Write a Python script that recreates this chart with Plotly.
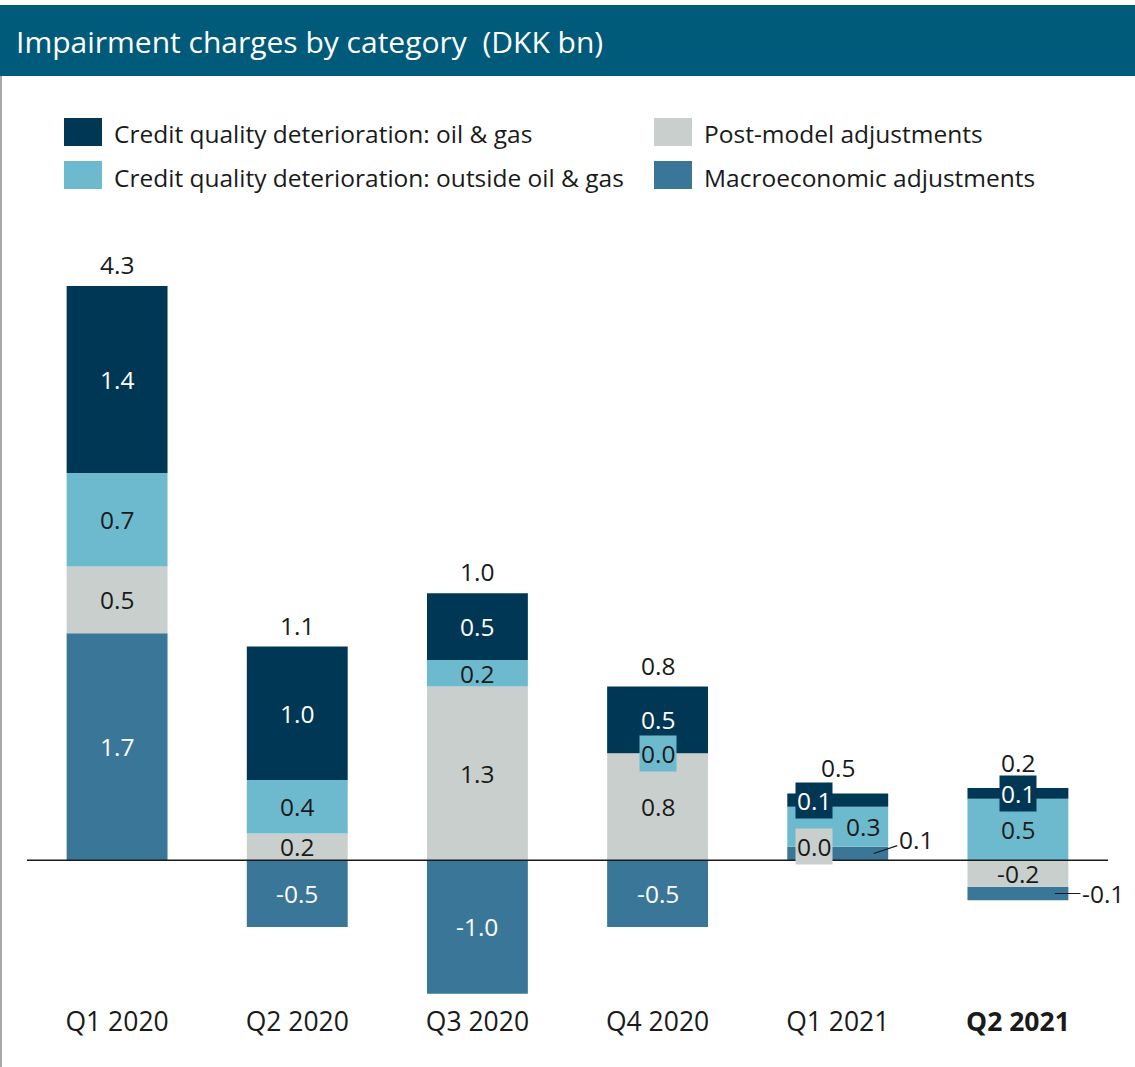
import plotly.graph_objects as go

# ---- data ----
categories = ["Q1 2020", "Q2 2020", "Q3 2020", "Q4 2020", "Q1 2021", "Q2 2021"]
tick_labels = ["Q1 2020", "Q2 2020", "Q3 2020", "Q4 2020", "Q1 2021", "<b>Q2 2021</b>"]
oil_gas = [1.4, 1.0, 0.5, 0.5, 0.1, 0.08]
outside_oil_gas = [0.7, 0.4, 0.2, 0.0, 0.3, 0.46]
post_model = [0.5, 0.2, 1.3, 0.8, 0.0, -0.2]
macro = [1.7, -0.5, -1.0, -0.5, 0.1, -0.1]
totals = [4.3, 1.1, 1.0, 0.8, 0.5, 0.2]

series = [
    # name, values, color, label font color
    ("Macroeconomic adjustments", macro, "#3A7697", "white"),
    ("Post-model adjustments", post_model, "#C9CFCC", "#1a1a1a"),
    ("Credit quality deterioration: outside oil & gas", outside_oil_gas, "#6DBACF", "#1a1a1a"),
    ("Credit quality deterioration: oil & gas", oil_gas, "#003755", "white"),
]
# stacking orders
pos_order = [0, 1, 2, 3]   # macro at bottom, then post, outside, oil
neg_order = [1, 0, 2, 3]   # post closest to zero, then macro

FONT = "Open Sans"
VAL_SIZE = 24.5
n = len(categories)
x_idx = list(range(n))

# compute bases
bases = [[0.0] * n for _ in series]
for j in range(n):
    pos = 0.0
    for k in pos_order:
        v = series[k][1][j]
        if v >= 0:
            bases[k][j] = pos
            pos += v
    neg = 0.0
    for k in neg_order:
        v = series[k][1][j]
        if v < 0:
            bases[k][j] = neg
            neg += v

fig = go.Figure()
for k, (name, vals, color, _) in enumerate(series):
    fig.add_trace(go.Bar(
        x=x_idx, y=vals, base=bases[k], name=name,
        marker=dict(color=color, line=dict(width=0)),
        width=0.56, showlegend=False, hoverinfo="skip",
    ))

annotations = []
# special label placements: (series index, category index) -> dict
special = {
    (2, 3): dict(box=True),
    (3, 4): dict(xshift=-24, box=True),
    (2, 4): dict(xshift=25),
    (1, 4): dict(xshift=-24, box=True),
    (0, 4): dict(arrow=(42, -14), xshift=36),
    (3, 5): dict(box=True),
    (0, 5): dict(arrow=(48, 0), xshift=37),
}
for k, (name, vals, color, fcol) in enumerate(series):
    for j in range(n):
        v = vals[j]
        ymid = bases[k][j] + v / 2
        sp = special.get((k, j), {})
        if "arrow" in sp:
            ax, ay = sp["arrow"]
            annotations.append(dict(
                x=j, y=ymid, xref="x", yref="y", text=f"{v:.1f}",
                showarrow=True, arrowhead=0, arrowwidth=1.2, arrowcolor="#1a1a1a",
                ax=ax, ay=ay, xshift=sp.get("xshift", 0), standoff=0,
                font=dict(family=FONT, size=VAL_SIZE, color="#1a1a1a"),
            ))
        else:
            annotations.append(dict(
                x=j, y=ymid, xref="x", yref="y", text=f"{v:.1f}",
                showarrow=False, xshift=sp.get("xshift", 0),
                bgcolor=color if sp.get("box") else "rgba(0,0,0,0)", borderpad=1,
                font=dict(family=FONT, size=VAL_SIZE, color=fcol),
            ))

# totals above stacks
for j in range(n):
    top = sum(series[k][1][j] for k in range(len(series)) if series[k][1][j] > 0)
    extra = 7 if j >= 4 else 3
    annotations.append(dict(
        x=j, y=top, xref="x", yref="y", text=f"{totals[j]:.1f}",
        showarrow=False, yanchor="bottom", yshift=extra,
        font=dict(family=FONT, size=VAL_SIZE, color="#1a1a1a"),
    ))

# ---- layout geometry ----
W, H = 1135, 1067
ml, mr, mt, mb = 27, 27, 246, 64
pw = W - ml - mr
ph = H - mt - mb

def px_x(p):
    return (p - ml) / pw

def px_y(p):
    return (H - mb - p) / ph

shapes = [
    # header
    dict(type="rect", xref="paper", yref="paper", x0=px_x(0), x1=px_x(W),
         y0=px_y(76), y1=px_y(5), fillcolor="#005A7A", line=dict(width=0), layer="above"),
    # left border
    dict(type="rect", xref="paper", yref="paper", x0=px_x(0), x1=px_x(2),
         y0=px_y(H), y1=px_y(76), fillcolor="#A9A9A9", line=dict(width=0)),
    # zero line
    dict(type="line", xref="paper", yref="y", x0=0, x1=1, y0=0, y1=0,
         line=dict(color="#1a1a1a", width=1.5), layer="above"),
]
annotations.append(dict(
    x=px_x(14), y=px_y(42), xref="paper", yref="paper", xanchor="left", yanchor="middle",
    text="Impairment charges by category  (DKK bn)", showarrow=False,
    font=dict(family=FONT, size=30, color="white", weight=500),
))

# legend (manual, 2 columns)
legend_items = [
    (3, 64, 132), (1, 654, 132),
    (2, 64, 175), (0, 654, 175),
]
for k, lx, ly in legend_items:
    name, _, color, _ = series[k]
    shapes.append(dict(type="rect", xref="paper", yref="paper",
                       x0=px_x(lx), x1=px_x(lx + 38), y0=px_y(ly + 14), y1=px_y(ly - 14),
                       fillcolor=color, line=dict(width=0)))
    annotations.append(dict(
        x=px_x(lx + 48), y=px_y(ly + 2), xref="paper", yref="paper",
        xanchor="left", yanchor="middle", text=name, showarrow=False,
        font=dict(family=FONT, size=24.5, color="#1a1a1a"),
    ))

fig.update_layout(
    width=W, height=H,
    margin=dict(l=ml, r=mr, t=mt, b=mb, pad=0),
    barmode="overlay",
    plot_bgcolor="white", paper_bgcolor="white",
    xaxis=dict(range=[-0.5, 5.5], tickvals=x_idx, ticktext=tick_labels,
               showgrid=False, zeroline=False, showline=False, ticks="",
               tickfont=dict(family=FONT, size=26.5, color="#1a1a1a")),
    yaxis=dict(range=[-1.07, 4.6], visible=False, showgrid=False, zeroline=False),
    shapes=shapes,
    annotations=annotations,
    showlegend=False,
)

fig.write_html("out.html", config={"displayModeBar": False},
               post_script="document.body.style.margin='0';document.body.style.overflow='hidden';")
